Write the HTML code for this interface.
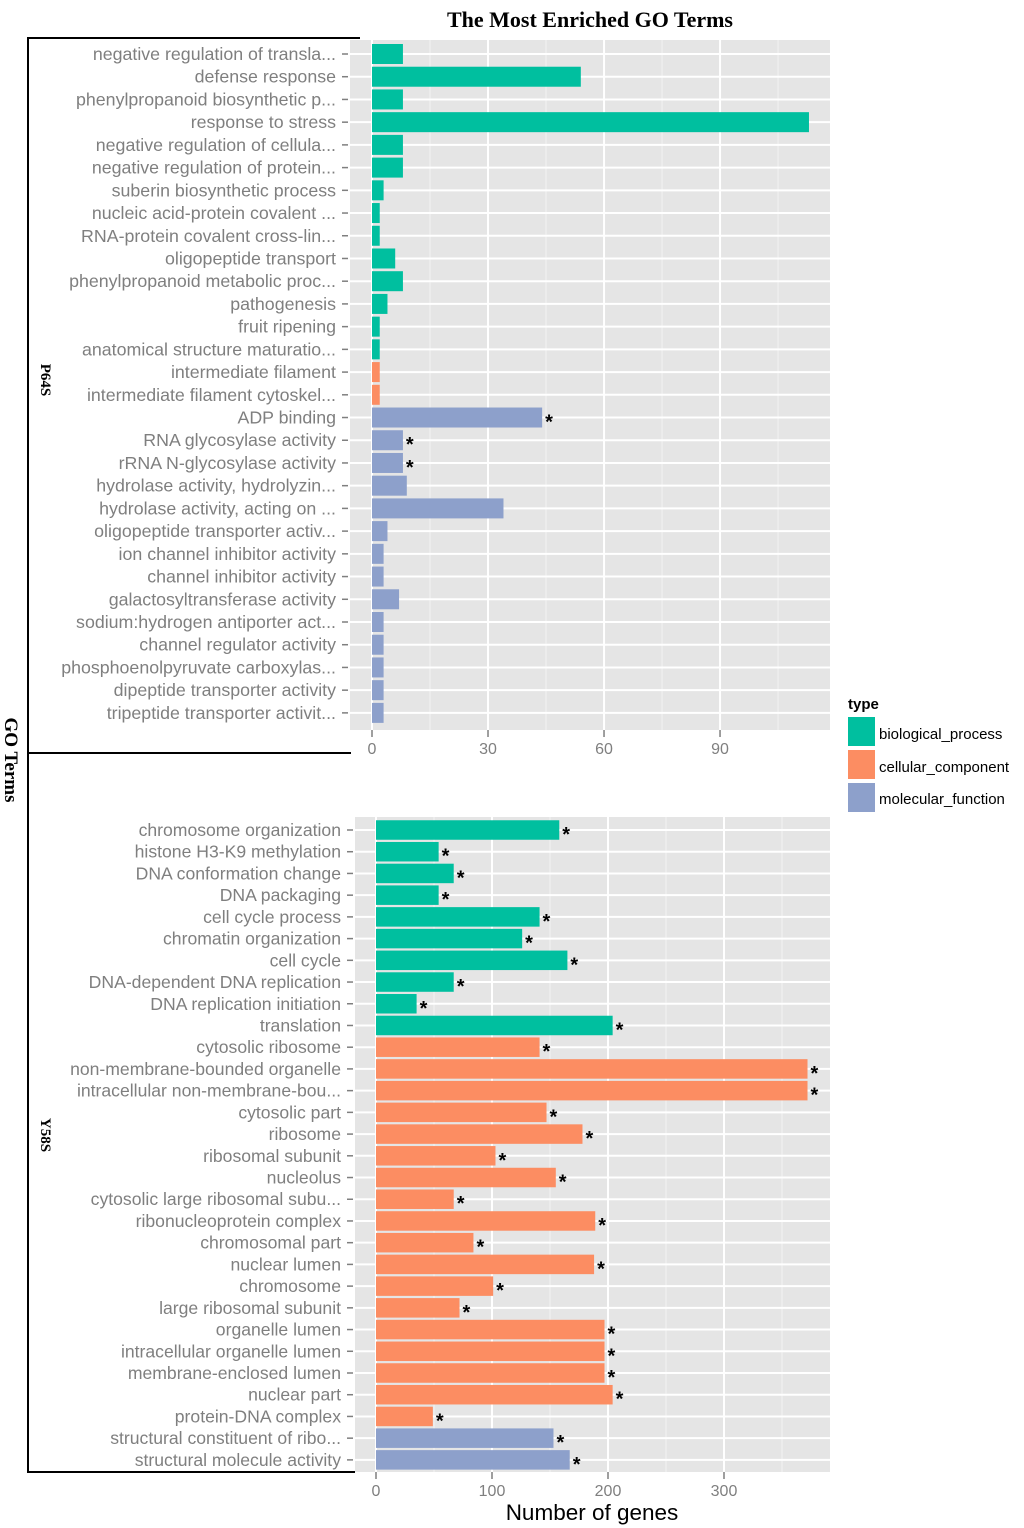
<!DOCTYPE html>
<html><head><meta charset="utf-8"><style>
body{margin:0;background:#fff;}
svg{display:block;font-family:"Liberation Sans",sans-serif;}
</style></head><body>
<svg id="c" width="1024" height="1528" xmlns="http://www.w3.org/2000/svg">
<text x="590" y="27" text-anchor="middle" font-family="Liberation Serif,serif" font-weight="bold" font-size="22" fill="#000">The Most Enriched GO Terms</text>
<text transform="translate(5,760) rotate(90)" text-anchor="middle" font-family="Liberation Serif,serif" font-weight="bold" font-size="19" fill="#000">GO Terms</text>
<text transform="translate(41,380) rotate(90)" text-anchor="middle" font-family="Liberation Serif,serif" font-weight="bold" font-size="15" fill="#000">P64S</text>
<text transform="translate(41,1135) rotate(90)" text-anchor="middle" font-family="Liberation Serif,serif" font-weight="bold" font-size="15" fill="#000">Y58S</text>
<g stroke="#000" stroke-width="2">
<line x1="28" y1="38" x2="28" y2="1472"/><line x1="27" y1="38" x2="360" y2="38"/><line x1="27" y1="753" x2="351" y2="753"/><line x1="27" y1="1472" x2="355" y2="1472"/>
</g>
<text x="592" y="1520" text-anchor="middle" font-size="22.5" fill="#000">Number of genes</text>
<g>
<text x="848" y="709" font-size="15" font-weight="bold" fill="#000">type</text>
<rect x="848" y="717" width="27" height="29" fill="#00BF9F"/>
<text x="879" y="739" font-size="15" fill="#000">biological_process</text>
<rect x="848" y="750" width="27" height="29" fill="#FC8D62"/>
<text x="879" y="772" font-size="15" fill="#000">cellular_component</text>
<rect x="848" y="783" width="27" height="29" fill="#8DA0CB"/>
<text x="879" y="804" font-size="15" fill="#000">molecular_function</text>
</g>
</svg>
<script>
const topTerms=["negative regulation of transla...","defense response","phenylpropanoid biosynthetic p...","response to stress","negative regulation of cellula...","negative regulation of protein...","suberin biosynthetic process","nucleic acid-protein covalent ...","RNA-protein covalent cross-lin...","oligopeptide transport","phenylpropanoid metabolic proc...","pathogenesis","fruit ripening","anatomical structure maturatio...","intermediate filament","intermediate filament cytoskel...","ADP binding","RNA glycosylase activity","rRNA N-glycosylase activity","hydrolase activity, hydrolyzin...","hydrolase activity, acting on ...","oligopeptide transporter activ...","ion channel inhibitor activity","channel inhibitor activity","galactosyltransferase activity","sodium:hydrogen antiporter act...","channel regulator activity","phosphoenolpyruvate carboxylas...","dipeptide transporter activity","tripeptide transporter activit..."];
const topValues=[8,54,8,113,8,8,3,2,2,6,8,4,2,2,2,2,44,8,8,9,34,4,3,3,7,3,3,3,3,3];
const topTypes=["bp","bp","bp","bp","bp","bp","bp","bp","bp","bp","bp","bp","bp","bp","cc","cc","mf","mf","mf","mf","mf","mf","mf","mf","mf","mf","mf","mf","mf","mf"];
const topStars=[0,0,0,0,0,0,0,0,0,0,0,0,0,0,0,0,1,1,1,0,0,0,0,0,0,0,0,0,0,0];
const topTicks=[0,30,60,90];
const botTerms=["chromosome organization","histone H3-K9 methylation","DNA conformation change","DNA packaging","cell cycle process","chromatin organization","cell cycle","DNA-dependent DNA replication","DNA replication initiation","translation","cytosolic ribosome","non-membrane-bounded organelle","intracellular non-membrane-bou...","cytosolic part","ribosome","ribosomal subunit","nucleolus","cytosolic large ribosomal subu...","ribonucleoprotein complex","chromosomal part","nuclear lumen","chromosome","large ribosomal subunit","organelle lumen","intracellular organelle lumen","membrane-enclosed lumen","nuclear part","protein-DNA complex","structural constituent of ribo...","structural molecule activity"];
const botValues=[158,54,67,54,141,126,165,67,35,204,141,372,372,147,178,103,155,67,189,84,188,101,72,197,197,197,204,49,153,167];
const botTypes=["bp","bp","bp","bp","bp","bp","bp","bp","bp","bp","cc","cc","cc","cc","cc","cc","cc","cc","cc","cc","cc","cc","cc","cc","cc","cc","cc","cc","mf","mf"];
const botTicks=[0,100,200,300];
const colors={bp:"#00BF9F",cc:"#FC8D62",mf:"#8DA0CB"};
const svg=document.getElementById('c');
const NS="http://www.w3.org/2000/svg";
function mk(tag,attrs,parent){const e=document.createElementNS(NS,tag);for(const k in attrs)e.setAttribute(k,attrs[k]);(parent||svg).appendChild(e);return e;}
function panel(p){
  const g=mk('g',{});
  
  
  const x=v=>p.x0+v*p.k;
  const y=i=>p.y0+i*p.step;
  const bg=mk('rect',{x:p.left,y:p.top,width:p.right-p.left,height:p.bottom-p.top,fill:"#E5E5E5"},g);
  
  
  for(let i=0;i<p.ticks.length;i++){
    const t=p.ticks[i], h=t+(p.ticks[1]-p.ticks[0])/2;
    if(x(h)<p.right) mk('line',{x1:x(h),x2:x(h),y1:p.top,y2:p.bottom,stroke:"#F2F2F2","stroke-width":1},g);
    mk('line',{x1:x(t),x2:x(t),y1:p.top,y2:p.bottom,stroke:"#fff","stroke-width":2},g);
    mk('line',{x1:x(t),x2:x(t),y1:p.bottom,y2:p.bottom+7,stroke:"#7F7F7F","stroke-width":1.5},g);
    const tl=mk('text',{x:x(t),y:p.bottom+24,"text-anchor":"middle","font-size":16,fill:"#7F7F7F"},g);
    tl.textContent=t;
    
    
  }
  for(let i=0;i<p.terms.length;i++){
    mk('line',{x1:p.left,x2:p.right,y1:y(i),y2:y(i),stroke:"#fff","stroke-width":2},g);
  }
  for(let i=0;i<p.terms.length;i++){
    const r=mk('rect',{x:x(0),y:y(i)-p.bh/2,width:x(p.values[i])-x(0),height:p.bh,fill:colors[p.types[i]]},g);
    
    
    mk('line',{x1:p.left-8,x2:p.left-2,y1:y(i),y2:y(i),stroke:"#7F7F7F","stroke-width":1.5},g);
    const lb=mk('text',{x:p.left-14,y:y(i)+6,"text-anchor":"end","font-size":p.fs,fill:"#7F7F7F"},g);
    lb.textContent=p.terms[i];
    
    
    if(p.stars[i]){
      const s=mk('text',{x:x(p.values[i])+3,y:y(i)+11,"font-size":20,"font-weight":"bold",fill:"#000"},g);
      s.textContent="*";
      
      
    }
  }
}
panel({name:'panel-p64s',terms:topTerms,values:topValues,types:topTypes,stars:topStars,ticks:topTicks,x0:372,k:3.867,y0:54,step:22.72,bh:20,left:350,right:830,top:40,bottom:730,fs:17.8});
panel({name:'panel-y58s',terms:botTerms,values:botValues,types:botTypes,stars:botValues.map(()=>1),ticks:botTicks,x0:376,k:1.16,y0:830,step:21.72,bh:19.5,left:355,right:830,top:817,bottom:1472,fs:17.6});
</script>
</body></html>
